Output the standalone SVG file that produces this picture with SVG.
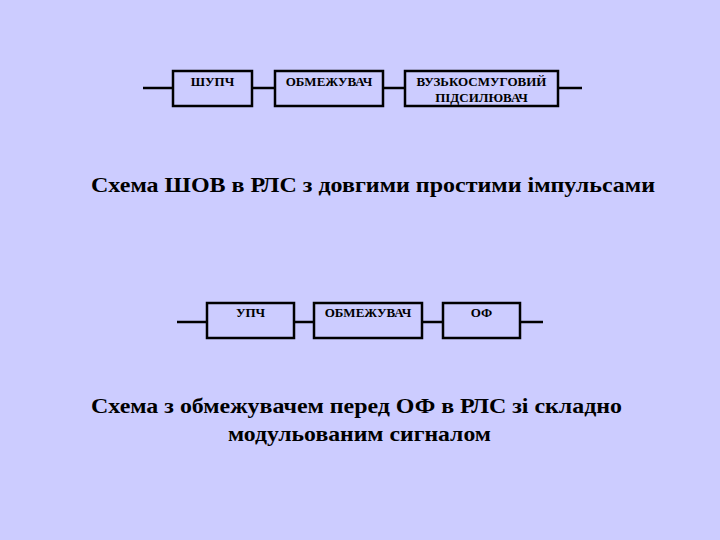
<svg xmlns="http://www.w3.org/2000/svg" width="720" height="540" viewBox="0 0 720 540">
<style>
.box{fill:none;stroke:#000;stroke-width:2.5}
.wire{stroke:#000;stroke-width:2.5;fill:none}
.lbl{font-family:"Liberation Serif","DejaVu Serif",serif;font-weight:bold;font-size:13px;fill:#000;text-anchor:middle}
.cap{font-family:"Liberation Serif","DejaVu Serif",serif;font-weight:bold;font-size:21px;fill:#000}
</style>
<rect width="720" height="540" fill="#CCCCFF"/>
<g id="connectors">
<line class="wire" x1="143" y1="88" x2="173" y2="88"/>
<line class="wire" x1="252" y1="88" x2="275" y2="88"/>
<line class="wire" x1="383" y1="88" x2="405" y2="88"/>
<line class="wire" x1="558" y1="88" x2="582" y2="88"/>
<line class="wire" x1="177" y1="322" x2="207" y2="322"/>
<line class="wire" x1="294" y1="322" x2="314" y2="322"/>
<line class="wire" x1="422" y1="322" x2="443" y2="322"/>
<line class="wire" x1="520" y1="322" x2="543" y2="322"/>
</g>
<g id="shupch">
<rect class="box" x="173" y="71" width="79" height="35"/>
<text class="lbl" x="212.5" y="86">ШУПЧ</text>
</g>
<g id="obmezhuvach1">
<rect class="box" x="275" y="71" width="108" height="35"/>
<text class="lbl" x="329" y="86">ОБМЕЖУВАЧ</text>
</g>
<g id="vuzkosmugovyi">
<rect class="box" x="405" y="71" width="153" height="35"/>
<text class="lbl" x="481.5" y="86">ВУЗЬКОСМУГОВИЙ</text>
<text class="lbl" x="481.5" y="102">ПІДСИЛЮВАЧ</text>
</g>
<g id="upch">
<rect class="box" x="207" y="303" width="87" height="35"/>
<text class="lbl" x="250.5" y="317">УПЧ</text>
</g>
<g id="obmezhuvach2">
<rect class="box" x="314" y="303" width="108" height="35"/>
<text class="lbl" x="368" y="317">ОБМЕЖУВАЧ</text>
</g>
<g id="of">
<rect class="box" x="443" y="303" width="77" height="35"/>
<text class="lbl" x="481.5" y="317">ОФ</text>
</g>
<text class="cap" x="91" y="192" textLength="564" lengthAdjust="spacingAndGlyphs">Схема ШОВ в РЛС з довгими простими імпульсами</text>
<text class="cap" x="91" y="413" textLength="531" lengthAdjust="spacingAndGlyphs">Схема з обмежувачем перед ОФ в РЛС зі складно</text>
<text class="cap" x="228" y="441" textLength="263" lengthAdjust="spacingAndGlyphs">модульованим сигналом</text>
</svg>
